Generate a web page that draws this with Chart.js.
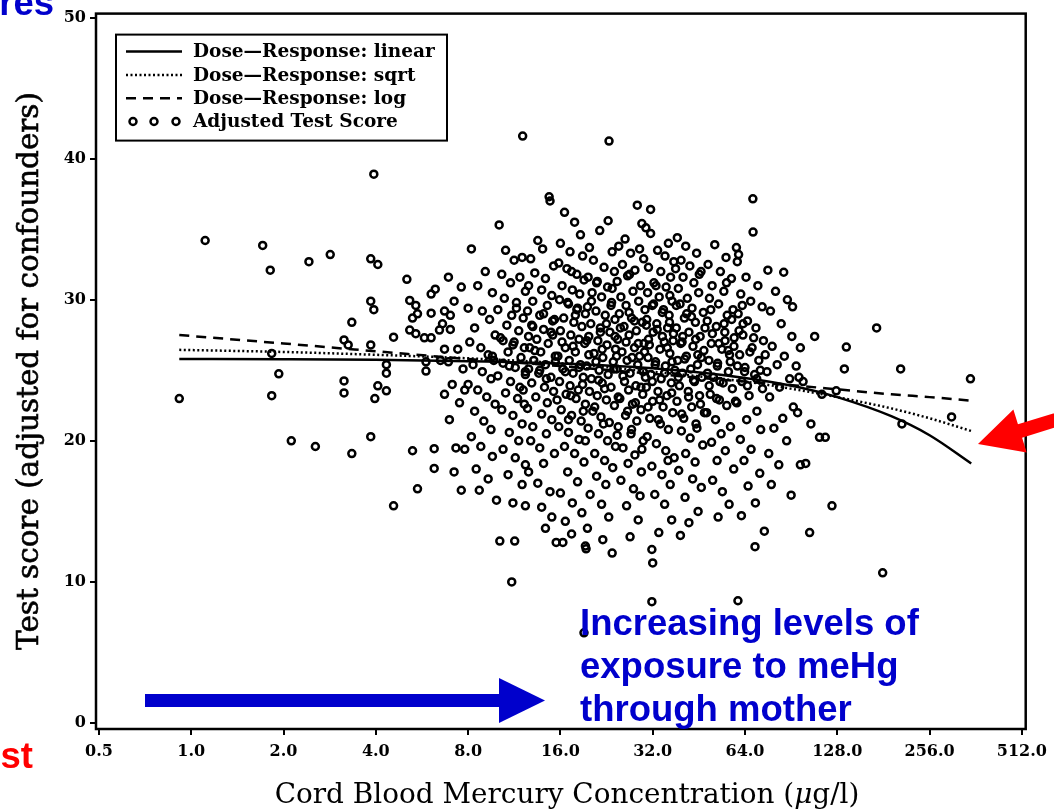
<!DOCTYPE html>
<html>
<head>
<meta charset="utf-8">
<script src="https://cdn.jsdelivr.net/npm/chart.js@4.4.0/dist/chart.umd.min.js"></script>
<style>
  html, body { margin: 0; padding: 0; background: #fff; }
  #wrap { position: relative; width: 1054px; height: 809px; }
</style>
</head>
<body>
<div id="wrap"><canvas id="c" width="1054" height="809"></canvas></div>
<script>
// Axis ticks
const xTickValues = [0.5, 1, 2, 4, 8, 16, 32, 64, 128, 256, 512];
const yTickValues = [0, 10, 20, 30, 40, 50];

// Adjusted test scores against cord blood mercury (µg/l), as [concentration, score]
const lowExposure = [
  [1.11,34.2],[1.71,33.85],[1.81,32.1],[2.42,32.7],[2.84,33.2],[3.85,32.9],[4.06,32.5],[5.05,31.45],[6.06,30.4],[6.25,30.75],
  [3.85,29.9],[3.94,29.3],[3.34,28.4],[5.16,29.95],[5.40,29.6],[5.47,29.0],[5.27,28.7],[6.06,29.05],[6.70,29.2],[6.60,28.3],
  [6.45,27.85],[5.16,27.85],[5.40,27.6],[5.76,27.3],[6.06,27.3],[4.57,27.35],[3.15,27.15],[3.25,26.8],[3.85,26.8],[1.83,26.2],
  [0.914,23.0],[1.93,24.75],[1.83,23.2],[3.15,24.25],[3.15,23.4],[4.06,23.9],[4.33,23.55],[3.97,23.0],[4.33,25.4],[4.33,24.8],
  [5.83,24.95],[5.83,25.6],[6.50,25.7],[6.70,26.5],[6.70,23.3],[2.12,20.0],[2.54,19.6],[3.34,19.1],[3.85,20.3],[5.27,19.3],
  [6.20,19.45],[6.20,18.05],[5.47,16.6],[4.57,15.4],[3.94,38.9],
  [6.9,31.6],[7.2,29.9],[7.6,30.9],[7.0,27.9],[7.4,26.5],[6.9,25.6],[7.7,25.1],[7.1,24.0],[7.5,22.7],[6.95,21.5],
  [7.3,19.5],[7.8,19.4],[7.2,17.8],[7.6,16.5],[7.8,23.6],[7.0,28.9]
];
const midExposure = [
  [8.2,33.6],[9.1,32.0],[8.6,31.0],[9.6,30.5],[8.0,29.4],[8.9,29.2],[9.4,28.6],[8.4,28.0],[9.8,27.5],[8.1,27.0],
  [8.8,26.6],[9.3,26.1],[9.7,25.7],[8.3,25.4],[8.9,24.9],[9.5,24.4],[8.0,24.0],[8.6,23.6],[9.2,23.1],[9.8,22.6],
  [8.4,22.1],[9.0,21.4],[9.5,20.8],[8.2,20.3],[8.8,19.6],[9.6,18.9],[8.5,18.0],[9.3,17.3],[8.7,16.5],[9.9,15.8],
  [12.05,41.6],[10.15,12.9],[11.35,12.9],[11.1,10.0],
  [10.1,35.3],[10.6,33.5],[11.3,32.8],[12.0,33.0],[10.3,31.8],[11.0,31.2],[11.8,31.6],[12.3,30.6],[10.5,30.1],[11.5,29.8],
  [10.0,29.3],[11.1,28.9],[12.1,28.7],[10.7,28.2],[11.7,27.8],[10.2,27.3],[11.3,27.0],[12.2,26.6],[10.8,26.3],[11.9,25.9],
  [10.4,25.5],[11.4,25.2],[12.3,24.9],[10.0,24.6],[11.0,24.2],[11.8,23.8],[10.6,23.4],[11.6,23.0],[12.2,22.6],[10.3,22.2],
  [11.2,21.8],[12.0,21.2],[10.9,20.6],[11.7,20.0],[10.4,19.4],[11.4,18.8],[12.3,18.3],[10.8,17.6],[12.0,16.9],[11.2,15.6],
  [12.3,15.4],
  [14.7,37.3],[14.8,37.0],[13.5,34.2],[14.0,33.6],[12.8,32.9],[15.2,32.4],[13.2,31.9],[14.3,31.5],[12.6,31.0],[13.9,30.7],
  [15.0,30.3],[13.0,29.9],[14.5,29.6],[12.5,29.2],[13.7,28.9],[15.3,28.6],[12.9,28.2],[14.1,27.9],[15.1,27.5],[13.4,27.2],
  [14.6,26.9],[12.7,26.6],[13.8,26.3],[15.4,26.0],[13.1,25.7],[14.3,25.4],[12.6,25.1],[13.6,24.8],[14.9,24.5],[12.9,24.1],
  [14.2,23.8],[15.2,23.5],[13.3,23.1],[14.5,22.7],[12.5,22.3],[13.9,21.9],[15.0,21.5],[13.0,21.0],[14.4,20.5],[12.8,20.0],
  [13.7,19.5],[15.3,19.1],[14.1,18.4],[12.6,17.8],[13.5,17.0],[14.8,16.4],[13.9,15.3],[15.0,14.6],[14.3,13.8],[15.5,12.8],
  [16.3,12.8],[19.3,12.55],[19.4,12.35],[16.5,36.2],[17.8,35.5],[18.6,34.6],[16.0,34.0],[17.2,33.4],[18.9,33.1],[15.8,32.6],
  [16.8,32.2],[18.1,31.8],[19.1,31.4],[16.2,31.0],[17.5,30.7],[18.5,30.4],[15.9,30.0],[17.0,29.7],[18.2,29.4],[19.3,29.0],
  [16.4,28.7],[17.7,28.4],[18.8,28.1],[16.0,27.8],[17.3,27.5],[18.4,27.2],[19.2,26.9],[16.6,26.6],[17.9,26.3],[15.7,26.0],
  [17.1,25.7],[18.6,25.4],[16.3,25.1],[17.6,24.8],[19.0,24.5],[15.9,24.2],[17.2,23.9],[18.3,23.6],[16.7,23.3],[18.0,23.0],
  [19.3,22.6],[16.1,22.2],[17.4,21.8],[18.7,21.4],[15.8,21.0],[17.0,20.6],[18.4,20.1],[16.5,19.6],[17.8,19.1],[19.1,18.5],
  [16.9,17.8],[18.2,17.1],[16.0,16.3],[17.5,15.6],[18.8,14.9],[16.6,14.3],[17.4,13.4],[19.1,6.4]
];
const highExposure = [
  [23.05,41.25],[22.9,35.6],[19.9,33.7],[21.5,34.9],[23.6,33.4],[20.5,32.8],[22.2,32.3],[24.0,32.0],[19.7,31.6],[21.0,31.2],
  [22.8,30.9],[20.3,30.5],[21.8,30.2],[23.5,29.8],[19.6,29.5],[20.9,29.2],[22.4,28.9],[24.1,28.6],[20.1,28.3],[21.6,28.0],
  [23.2,27.7],[19.8,27.4],[21.2,27.1],[22.7,26.8],[24.2,26.5],[20.6,26.2],[22.0,25.9],[23.8,25.6],[19.5,25.3],[21.4,25.0],
  [22.9,24.7],[20.2,24.4],[21.9,24.1],[23.4,23.8],[19.9,23.5],[21.1,23.2],[22.6,22.9],[24.0,22.5],[20.4,22.1],[21.7,21.7],
  [23.1,21.3],[19.7,20.9],[21.3,20.5],[22.8,20.0],[24.2,19.6],[20.7,19.1],[22.3,18.6],[23.7,18.1],[21.0,17.5],[22.5,16.9],
  [20.0,16.2],[23.6,12.05],[21.8,15.5],[23.0,14.6],[19.6,13.8],[22.0,13.0],
  [28.5,36.7],[26.0,34.3],[29.5,35.4],[24.8,33.8],[27.1,33.3],[29.9,32.9],[25.5,32.5],[28.0,32.1],[26.5,31.7],[24.5,31.3],
  [29.2,31.0],[27.6,30.6],[25.2,30.2],[28.8,29.9],[26.2,29.6],[30.2,29.3],[24.9,29.0],[27.3,28.7],[29.6,28.4],[25.8,28.1],
  [28.3,27.8],[26.8,27.5],[24.6,27.2],[30.0,26.9],[27.9,26.6],[25.4,26.3],[29.0,26.0],[26.4,25.7],[28.6,25.4],[24.4,25.1],
  [27.0,24.8],[30.3,24.5],[25.9,24.2],[28.2,23.9],[26.7,23.6],[29.7,23.3],[25.0,23.0],[27.5,22.6],[29.3,22.2],[26.1,21.8],
  [28.4,21.4],[24.7,21.0],[27.2,20.5],[29.8,20.0],[25.6,19.5],[28.0,19.0],[26.6,18.4],[29.4,17.8],[25.2,17.2],[27.7,16.6],
  [29.1,16.1],[26.3,15.4],[28.7,14.4],[27.0,13.2],
  [31.5,36.4],[30.4,35.1],[31.5,34.7],[36.0,34.0],[33.2,33.5],[35.1,33.1],[37.5,32.7],[31.0,32.3],[34.0,32.0],[36.6,31.6],
  [32.3,31.2],[35.4,30.9],[30.8,30.5],[33.6,30.2],[37.0,29.9],[31.9,29.6],[34.7,29.3],[36.2,28.9],[30.6,28.6],[33.0,28.3],
  [35.8,28.0],[32.1,27.7],[34.4,27.4],[37.3,27.1],[31.2,26.8],[33.8,26.5],[36.4,26.2],[30.9,25.9],[32.7,25.6],[35.2,25.3],
  [37.8,25.0],[31.6,24.7],[34.1,24.4],[36.8,24.1],[30.5,23.8],[33.3,23.5],[35.6,23.2],[32.0,22.8],[34.6,22.4],[37.2,22.0],
  [31.3,21.6],[33.9,21.2],[36.0,20.8],[30.7,20.3],[32.9,19.8],[35.3,19.3],[37.6,18.8],[31.8,18.2],[34.3,17.6],[36.5,16.9],
  [32.5,16.2],[35.0,15.5],[31.8,12.3],[32.0,11.35],[33.5,13.5],[36.9,14.4],[31.8,8.6],
  [38.5,34.4],[41.0,33.8],[44.5,33.3],[39.6,32.8],[42.3,32.4],[46.0,32.0],[40.2,31.6],[43.6,31.2],[38.8,30.8],[45.2,30.5],
  [41.5,30.1],[39.3,29.7],[43.0,29.4],[46.8,29.1],[40.6,28.7],[44.1,28.4],[38.2,28.0],[42.0,27.7],[45.7,27.4],[39.9,27.0],
  [43.3,26.7],[47.0,26.4],[41.2,26.0],[38.6,25.7],[44.8,25.4],[42.6,25.1],[40.0,24.8],[46.3,24.5],[43.8,24.2],[39.1,23.9],
  [41.8,23.5],[45.5,23.2],[38.4,22.8],[42.9,22.4],[47.2,22.0],[40.4,21.6],[44.3,21.2],[39.7,20.7],[42.4,20.2],[46.6,19.7],
  [41.0,19.1],[44.0,18.5],[38.9,17.9],[43.2,17.3],[46.1,16.7],[40.8,16.0],[45.0,15.0],[42.0,14.2],[39.4,13.3]
];
const topExposure = [
  [51.0,33.9],[55.5,33.0],[48.5,32.5],[53.2,32.0],[57.8,31.5],[50.0,31.0],[54.6,30.6],[49.0,30.1],[52.5,29.7],[58.5,29.3],
  [56.0,28.9],[48.2,28.5],[51.6,28.1],[55.0,27.7],[59.0,27.3],[49.7,26.9],[53.8,26.5],[57.0,26.1],[48.8,25.7],[52.0,25.3],
  [56.5,24.9],[50.5,24.5],[54.3,24.1],[58.2,23.7],[49.3,23.3],[52.8,22.9],[55.8,22.5],[48.0,22.0],[51.3,21.5],[57.4,21.0],
  [53.5,20.5],[49.8,19.9],[55.2,19.3],[51.9,18.6],[58.8,18.0],[50.2,17.2],[54.0,16.4],[56.8,15.5],[52.3,14.6],
  [67.9,37.15],[68.0,34.8],[60.0,33.7],[61.0,33.2],[60.4,32.7],[64.5,31.6],[70.5,31.0],[62.0,30.4],[66.8,29.9],[72.8,29.5],
  [60.8,29.0],[65.2,28.5],[69.5,28.0],[63.0,27.5],[73.5,27.1],[67.5,26.6],[61.5,26.1],[71.0,25.7],[64.0,25.2],[68.8,24.7],
  [62.5,24.2],[73.0,23.7],[66.0,23.2],[60.2,22.7],[70.0,22.1],[64.8,21.5],[72.0,20.8],[61.8,20.1],[67.0,19.4],[63.5,18.6],
  [71.5,17.7],[65.5,16.8],[69.2,15.6],[62.3,14.7],[74.0,13.6],[69.0,12.5],[60.7,8.67],
  [76.0,32.1],[85.6,31.95],[80.5,30.6],[88.0,30.0],[91.5,29.5],[77.5,29.2],[84.0,28.3],[91.0,27.4],[78.5,26.7],[86.0,26.0],
  [81.5,25.4],[75.5,24.9],[89.5,24.4],[83.0,23.8],[77.0,23.1],[92.0,22.4],[85.0,21.6],[79.5,20.9],[87.5,20.0],[76.5,19.1],
  [82.5,18.3],[90.5,16.15],[78.0,16.9],
  [96.0,24.5],[99.0,24.2],[94.0,25.3],[97.0,26.6],[101,18.4],[97.0,18.3],[104,13.5],[123,15.4],[112,20.25],[117,20.25],
  [114,23.3],[127,23.55],[108,27.4],[95.0,22.0],[105,21.2],
  [172,28.0],[137,26.65],[206,25.1],[348,24.4],[302,21.7],[208,21.2],[135,25.1],[180,10.65]
];
// Crowded centre of the cloud
const coreExposure = [
  [10.4,27.1],[13.2,26.4],[17.9,28.9],[21.3,24.3],[26.8,29.1],[33.1,27.9],[40.7,25.8],[52.6,26.9],[63.8,24.9],[12.1,23.6],
  [15.6,22.9],[19.8,26.1],[24.1,27.4],[29.3,23.8],[35.7,26.6],[44.2,27.2],[57.3,25.6],[11.5,29.4],[14.9,27.7],[18.4,25.2],
  [22.6,28.3],[27.4,25.9],[31.9,24.2],[38.2,29.6],[48.9,23.9],[61.2,27.8],[9.6,26.0],[16.9,29.8],[20.7,22.4],[25.6,24.6],
  [30.5,28.2],[36.9,23.4],[42.8,28.8],[54.7,28.3],[66.4,26.3],[13.7,25.0],[17.3,23.2],[23.4,29.6],[28.1,22.7],[34.4,29.1],
  [39.5,26.9],[50.1,27.6],[59.6,22.8],[11.2,26.8],[15.1,28.5],[19.5,27.1],[24.7,23.1],[32.6,25.4],[37.4,27.6],[46.1,25.9],
  [71.8,25.0],[12.6,27.4],[18.9,24.0],[21.9,26.5],[26.2,27.0],[30.1,26.3],[35.0,24.8],[41.9,23.1],[49.5,29.3],[56.4,26.4],
  [65.2,23.9],[14.4,24.4],[16.2,27.0],[22.3,23.7],[27.9,28.5],[33.7,22.9],[44.9,26.1],[53.0,24.2],[62.7,29.6],[10.9,25.3],
  [17.6,26.7],[20.2,29.9],[25.1,28.0],[31.0,27.2],[38.8,24.5],[47.4,28.0],[58.9,26.7],[68.3,27.3],[13.0,28.1],[19.0,22.1],
  [23.9,25.1],[29.8,24.9],[36.3,28.4],[43.5,24.3],[51.7,23.0],[60.5,25.3],[15.4,25.6],[18.1,29.3],[26.5,22.1],[32.2,29.7],
  [40.1,27.4],[45.8,22.6],[55.1,27.1],[74.5,26.1],[12.3,24.7],[16.6,24.9],[21.6,27.7],[28.7,26.9],[34.9,27.0],[41.3,29.0],
  [52.1,25.5],[63.1,28.3],[14.1,29.0],[20.9,25.6],[24.4,26.0],[30.9,22.4],[37.0,25.6],[48.3,24.8],[57.9,28.6],[69.9,24.4],
  [22.1,21.2],[27.3,20.8],[33.4,21.5],[39.8,21.9],[17.0,21.5],[44.6,20.9],[29.5,19.4],[35.9,18.6],[24.5,20.4],[19.3,20.0],
  [26.9,31.8],[32.8,31.0],[21.1,31.3],[38.0,32.2],[17.4,32.0],[45.4,31.8],[29.0,33.6],[23.6,30.8],[55.7,31.2],[36.4,30.3]
];

// Fitted dose-response curves
const fitConc   = [0.914, 2, 4, 8, 16, 32, 64, 96, 128, 192, 256, 350];
const fitLinear = [25.8, 25.78, 25.74, 25.65, 25.48, 25.14, 24.46, 23.8, 23.1, 21.75, 20.4, 18.4];
const fitSqrt   = [26.45, 26.3, 26.1, 25.85, 25.5, 24.9, 24.2, 23.6, 23.1, 22.3, 21.6, 20.7];
const fitLog    = [27.5, 26.9, 26.35, 25.8, 25.3, 24.75, 24.2, 23.9, 23.65, 23.3, 23.1, 22.85];

const pairs = (xs, ys) => xs.map((x, i) => ({ x: x, y: ys[i] }));
const toPoints = rows => rows.map(r => ({ x: r[0], y: r[1] }));
const SERIF = '"DejaVu Serif", serif';
const SANS = '"Liberation Sans", Arial, sans-serif';
const BLUE = '#0000CC';
const RED = '#FF0000';

// Box around the plotting area
const framePlugin = {
  id: 'frame',
  afterDatasetsDraw(chart) {
    const { ctx, chartArea: a } = chart;
    ctx.save();
    ctx.lineWidth = 2.5;
    ctx.strokeStyle = '#000';
    ctx.strokeRect(a.left, a.top, a.right - a.left, a.bottom - a.top);
    ctx.restore();
  }
};

// Boxed legend in the upper-left corner of the plot
const legendPlugin = {
  id: 'boxLegend',
  afterDatasetsDraw(chart) {
    const ctx = chart.ctx;
    const a = chart.chartArea;
    const x0 = a.left + 20, y0 = a.top + 21, w = 331, h = 106;
    ctx.save();
    ctx.fillStyle = '#fff';
    ctx.fillRect(x0, y0, w, h);
    ctx.lineWidth = 2;
    ctx.strokeStyle = '#000';
    ctx.strokeRect(x0, y0, w, h);
    ctx.font = 'bold 18.5px ' + SERIF;
    ctx.textBaseline = 'middle';
    ctx.fillStyle = '#000';
    const rows = [1, 2, 3, 0];
    rows.forEach((di, r) => {
      const ds = chart.data.datasets[di];
      const y = y0 + 17 + r * 23.3;
      const sx0 = x0 + 10, sx1 = x0 + 66;
      if (ds.showLine) {
        ctx.save();
        ctx.lineWidth = ds.borderWidth;
        ctx.setLineDash(ds.borderDash || []);
        ctx.beginPath();
        ctx.moveTo(sx0, y);
        ctx.lineTo(sx1, y);
        ctx.stroke();
        ctx.restore();
      } else {
        ctx.save();
        ctx.lineWidth = ds.borderWidth;
        [sx0 + 7, sx0 + 28, sx0 + 50].forEach(cx => {
          ctx.beginPath();
          ctx.arc(cx, y, ds.pointRadius, 0, Math.PI * 2);
          ctx.stroke();
        });
        ctx.restore();
      }
      ctx.fillText(ds.label, x0 + 77, y + 1);
    });
    ctx.restore();
  }
};

// Axis titles
const titlePlugin = {
  id: 'axisTitles',
  afterDraw(chart) {
    const ctx = chart.ctx;
    ctx.save();
    ctx.fillStyle = '#000';
    // x title with an italic mu
    const parts = [
      ['Cord Blood Mercury Concentration (', ''],
      ['\u03BC', 'italic '],
      ['g/l)', '']
    ];
    let size = 24;
    const widthAt = s => parts.reduce((t, p) => { ctx.font = p[1] + s + 'px ' + SERIF; return t + ctx.measureText(p[0]).width; }, 0);
    size = size * 585 / widthAt(size);
    let x = 567 - widthAt(size) / 2;
    ctx.textBaseline = 'alphabetic';
    ctx.textAlign = 'left';
    parts.forEach(p => {
      ctx.font = p[1] + size + 'px ' + SERIF;
      ctx.fillText(p[0], x, 803);
      x += ctx.measureText(p[0]).width;
    });
    // y title
    const yt = 'Test score (adjusted for confounders)';
    ctx.font = '24px ' + SERIF;
    const ys = 24 * 558 / ctx.measureText(yt).width;
    ctx.font = ys + 'px ' + SERIF;
    ctx.translate(30, 371);
    ctx.rotate(-Math.PI / 2);
    ctx.textAlign = 'center';
    ctx.textBaseline = 'middle';
    ctx.lineWidth = 0.6;
    ctx.strokeStyle = '#000';
    ctx.fillText(yt, 0, 0);
    ctx.strokeText(yt, 0, 0);
    ctx.restore();
  }
};

// Slide callouts: exposure arrow, caption and pointer
const calloutPlugin = {
  id: 'callouts',
  afterDraw(chart) {
    const ctx = chart.ctx;
    ctx.save();
    // blue arrow
    ctx.fillStyle = BLUE;
    ctx.fillRect(145, 694, 356, 13);
    ctx.beginPath();
    ctx.moveTo(499, 678);
    ctx.lineTo(545, 700.5);
    ctx.lineTo(499, 723);
    ctx.closePath();
    ctx.fill();
    // caption
    ctx.font = 'bold 36.5px ' + SANS;
    ctx.textAlign = 'left';
    ctx.textBaseline = 'alphabetic';
    ['Increasing levels of', 'exposure to meHg', 'through mother'].forEach((s, i) => {
      ctx.fillText(s, 580, 635 + i * 43);
    });
    // cut-off slide words at the edges
    ctx.textAlign = 'right';
    ctx.fillText('res', 54, 15);
    ctx.fillStyle = RED;
    ctx.fillText('st', 33, 768);
    // red pointer arrow
    const tip = [978, 444];
    const d = [0.955, -0.295], n = [0.295, 0.955];
    const hl = 44, hw = 22.5, sw = 7;
    const P = (a, b) => [tip[0] + d[0] * a + n[0] * b, tip[1] + d[1] * a + n[1] * b];
    const pts = [P(0, 0), P(hl, -hw), P(hl, -sw), P(200, -sw), P(200, sw), P(hl, sw), P(hl, hw)];
    ctx.beginPath();
    pts.forEach((p, i) => i ? ctx.lineTo(p[0], p[1]) : ctx.moveTo(p[0], p[1]));
    ctx.closePath();
    ctx.fill();
    ctx.restore();
  }
};

const lineDs = (label, ys, dash) => ({
  type: 'scatter',
  label: label,
  data: pairs(fitConc, ys),
  showLine: true,
  borderColor: '#000',
  backgroundColor: '#000',
  borderWidth: 2.5,
  borderDash: dash,
  pointRadius: 0,
  cubicInterpolationMode: 'monotone',
  order: 1
});

new Chart(document.getElementById('c'), {
  type: 'scatter',
  data: {
    datasets: [
      {
        label: 'Adjusted Test Score',
        data: toPoints([].concat(lowExposure, midExposure, highExposure, topExposure, coreExposure)),
        showLine: false,
        pointStyle: 'circle',
        pointRadius: 3.5,
        borderWidth: 2.5,
        borderColor: '#000',
        backgroundColor: 'rgba(0,0,0,0)',
        order: 2
      },
      lineDs('Dose\u2014Response: linear', fitLinear, []),
      lineDs('Dose\u2014Response: sqrt', fitSqrt, [2, 2.5]),
      lineDs('Dose\u2014Response: log', fitLog, [10, 7])
    ]
  },
  options: {
    responsive: false,
    animation: false,
    devicePixelRatio: 1,
    layout: { padding: { left: 0, right: 21, top: 10, bottom: 0 } },
    plugins: { legend: { display: false }, tooltip: { enabled: false } },
    scales: {
      x: {
        type: 'logarithmic',
        min: 0.489,
        max: 527,
        afterBuildTicks: s => { s.ticks = xTickValues.map(v => ({ value: v })); },
        afterFit: s => { s.height = 80; },
        border: { display: false },
        grid: { drawOnChartArea: false, drawTicks: true, tickLength: 6, color: '#000', lineWidth: 2 },
        ticks: {
          autoSkip: false,
          maxRotation: 0,
          padding: 7,
          color: '#000',
          font: { family: 'DejaVu Serif', weight: 'bold', size: 16 },
          callback: v => Number(v).toFixed(1)
        }
      },
      y: {
        min: -0.42,
        max: 50.28,
        afterBuildTicks: s => { s.ticks = yTickValues.map(v => ({ value: v })); },
        afterFit: s => { s.width = 96; },
        border: { display: false },
        grid: { drawOnChartArea: false, drawTicks: true, tickLength: 6, color: '#000', lineWidth: 2 },
        ticks: {
          padding: 4,
          color: '#000',
          font: { family: 'DejaVu Serif', weight: 'bold', size: 16 },
          callback: v => String(v)
        }
      }
    }
  },
  plugins: [framePlugin, legendPlugin, titlePlugin, calloutPlugin]
});
</script>
</body>
</html>
